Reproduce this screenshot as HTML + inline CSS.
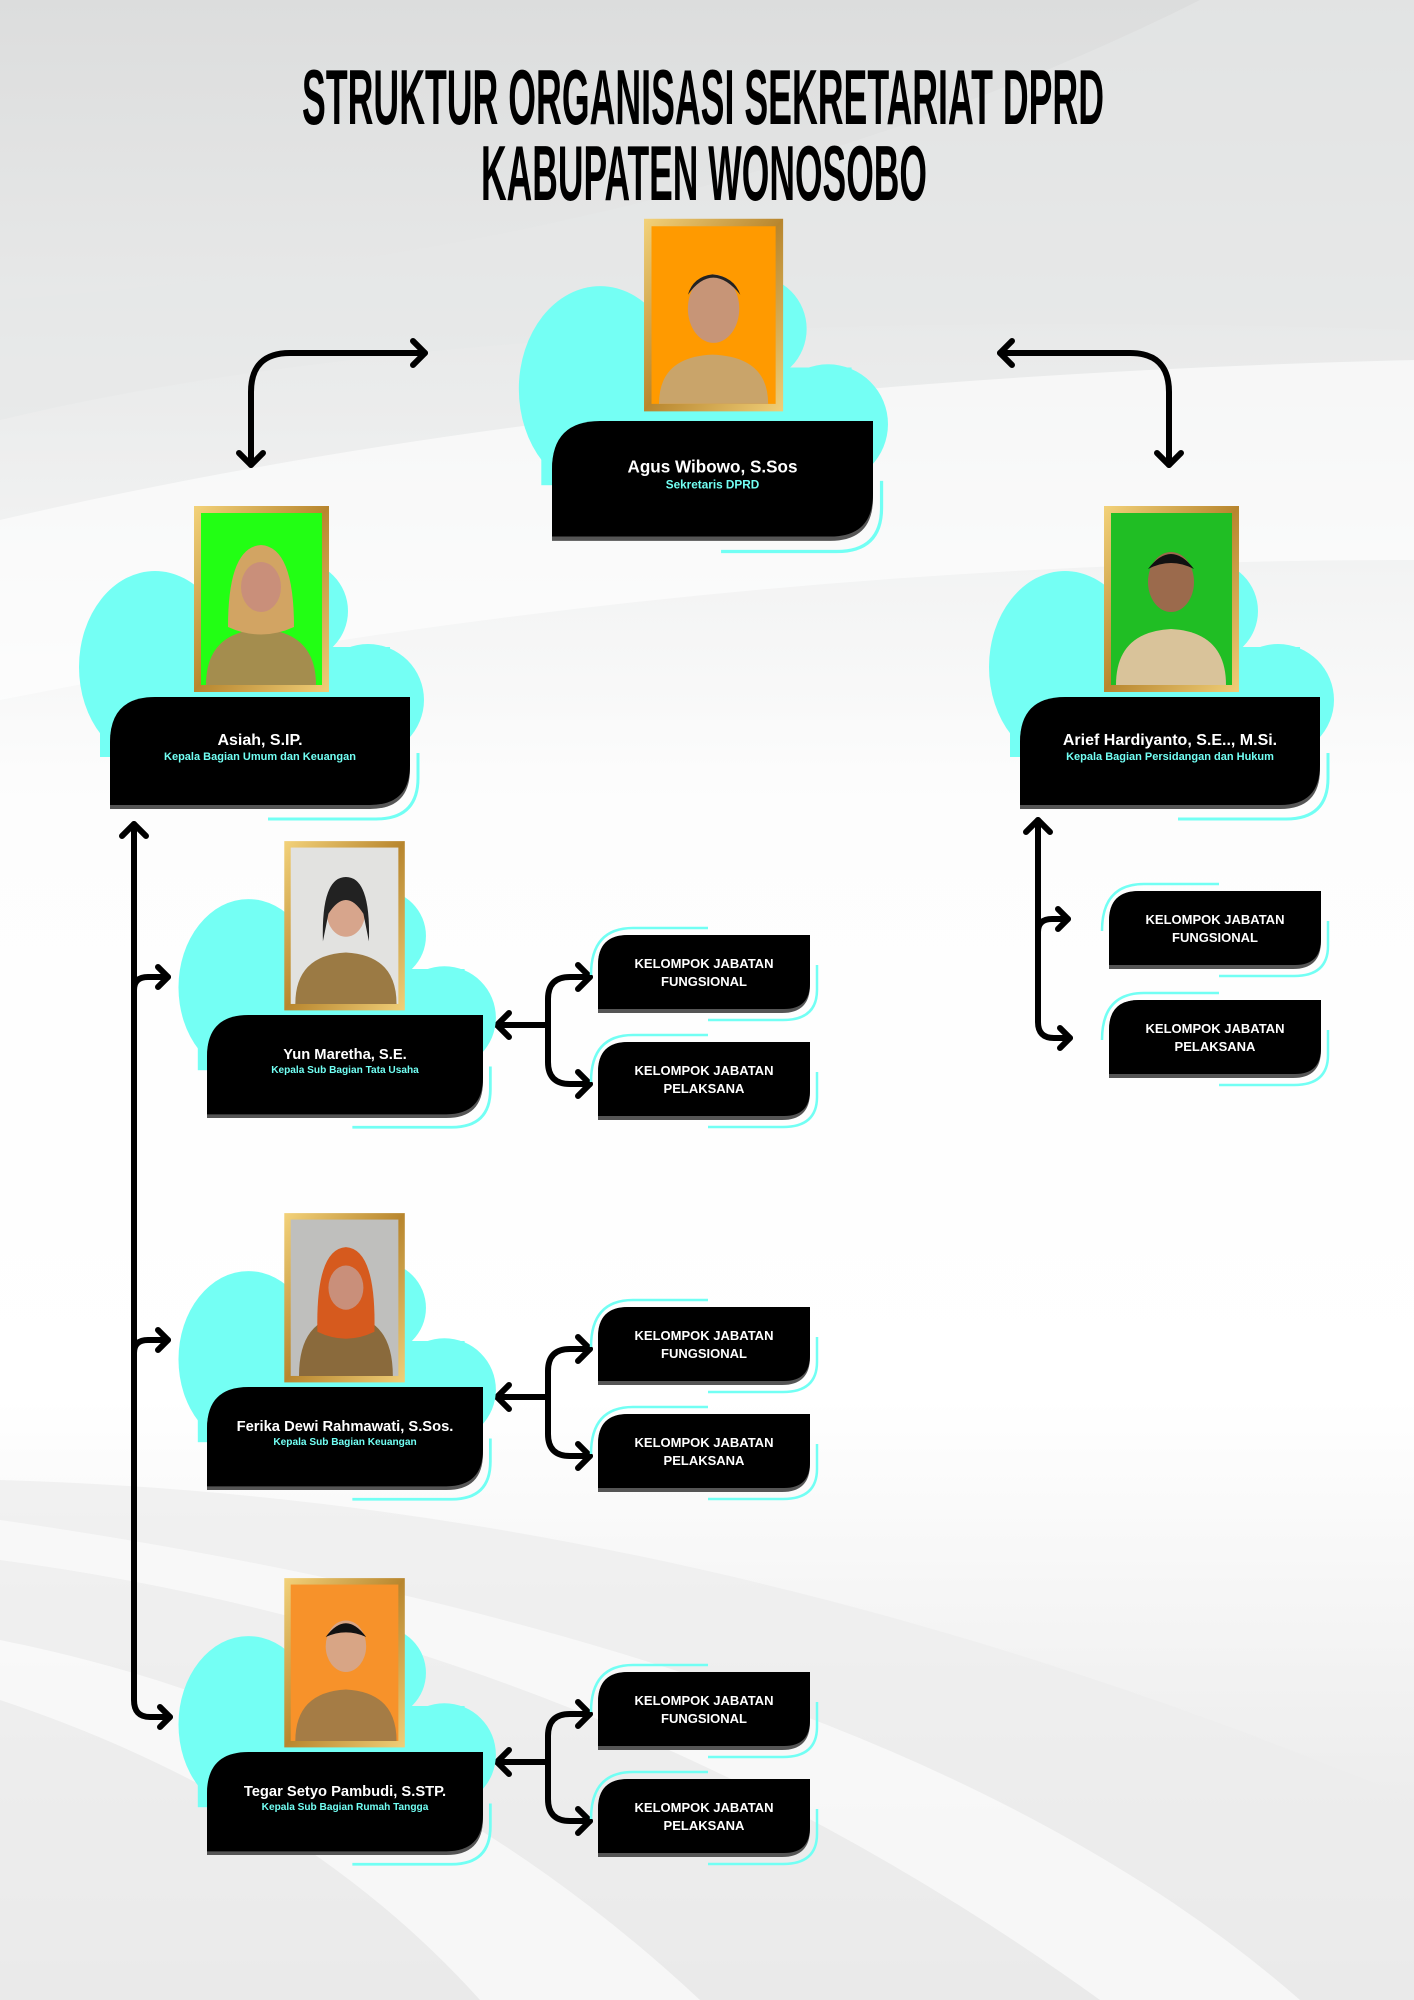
<!DOCTYPE html>
<html><head><meta charset="utf-8"><style>
html,body{margin:0;padding:0;width:1414px;height:2000px;overflow:hidden;background:#fff}
svg{display:block}
text{font-family:"Liberation Sans",sans-serif}
</style></head><body>
<svg width="1414" height="2000" viewBox="0 0 1414 2000" xmlns="http://www.w3.org/2000/svg">
<defs>
<linearGradient id="bg" x1="0" y1="0" x2="0" y2="1">
<stop offset="0" stop-color="#dcdddd"/><stop offset="0.2" stop-color="#ebecec"/><stop offset="0.4" stop-color="#fdfdfd"/>
<stop offset="0.7" stop-color="#ffffff"/><stop offset="0.85" stop-color="#f1f1f1"/><stop offset="1" stop-color="#e4e4e4"/>
</linearGradient>
<linearGradient id="gold" x1="0" y1="0" x2="1" y2="1">
<stop offset="0" stop-color="#f3d27a"/><stop offset="0.5" stop-color="#b8862e"/><stop offset="1" stop-color="#f0cf78"/>
</linearGradient>
<g id="cloud">
<ellipse cx="45" cy="-30" rx="76" ry="96"/><circle cx="258" cy="3" r="56"/><circle cx="188" cy="-86" r="50"/>
<rect x="-10" y="-50" width="290" height="110"/>
</g>
<g id="box">
<path d="M300,50 L300,75 Q300,116 258,116 L150,116" transform="translate(8,6)" fill="none" stroke="#72fff4" stroke-width="3"/>
<path d="M0,45 Q0,4 45,4 L300,4 L300,72 Q300,112 260,112 L0,112 Z" fill="#555"/>
<path d="M0,45 Q0,0 45,0 L300,0 L300,68 Q300,108 260,108 L0,108 Z" fill="#000"/>
</g>
<g id="kbox">
<path d="M-7,40 Q-7,-7 35,-7 L110,-7" fill="none" stroke="#72fff4" stroke-width="2.5"/>
<path d="M219,30 L219,55 Q219,85 185,85 L110,85" fill="none" stroke="#72fff4" stroke-width="2.5"/>
<path d="M0,30 Q0,0 30,0 L212,0 L212,50 Q212,78 184,78 L0,78 Z" fill="#555"/>
<path d="M0,30 Q0,0 30,0 L212,0 L212,48 Q212,74 186,74 L0,74 Z" fill="#000"/>
</g>
</defs>
<rect width="1414" height="2000" fill="url(#bg)"/>
<path d="M0,420 Q500,300 1414,330 L1414,0 L1200,0 Q700,250 0,300 Z" fill="#e6e7e7" opacity="0.6"/>
<path d="M0,520 Q600,380 1414,360 L1414,560 Q700,560 0,700 Z" fill="#fff" opacity="0.6"/>
<path d="M0,1480 Q700,1500 1414,1800 L1414,2000 L0,2000 Z" fill="#ececec" opacity="0.7"/>
<path d="M0,1560 Q600,1640 1100,2000 L1300,2000 Q900,1650 0,1520 Z" fill="#fafafa" opacity="0.8"/>
<path d="M0,1700 Q300,1800 480,2000 L700,2000 Q400,1720 0,1640 Z" fill="#fff" opacity="0.6"/>

<text x="302" y="124" font-size="78" font-weight="bold" textLength="802" lengthAdjust="spacingAndGlyphs">STRUKTUR ORGANISASI SEKRETARIAT DPRD</text>
<text x="481" y="200" font-size="78" font-weight="bold" textLength="446" lengthAdjust="spacingAndGlyphs">KABUPATEN WONOSOBO</text>

<g fill="none" stroke="#000" stroke-width="6" stroke-linecap="round" stroke-linejoin="round">
<path d="M425,353 L290,353 Q251,353 251,392 L251,465"/>
<polyline points="413,341 425,353 413,365"/><polyline points="239,453 251,465 263,453"/>
<path d="M1000,353 L1130,353 Q1169,353 1169,392 L1169,465"/>
<polyline points="1012,341 1000,353 1012,365"/><polyline points="1157,453 1169,465 1181,453"/>
<path d="M134,824 L134,1700 Q134,1717 150,1717 L170,1717"/>
<polyline points="122,836 134,824 146,836"/><polyline points="160,1707 170,1717 160,1727"/>
<path d="M134,990 Q134,977 148,977 L168,977"/><polyline points="158,967 168,977 158,987"/>
<path d="M134,1353 Q134,1340 148,1340 L168,1340"/><polyline points="158,1330 168,1340 158,1350"/>
<path d="M1038,820 L1038,1022 Q1038,1038 1054,1038 L1070,1038"/>
<polyline points="1026,832 1038,820 1050,832"/><polyline points="1060,1028 1070,1038 1060,1048"/>
<path d="M1038,932 Q1038,919 1052,919 L1068,919"/><polyline points="1058,909 1068,919 1058,929"/>
<g id="br">
<path d="M590,977 L570,977 Q548,977 548,999 L548,1062 Q548,1084 570,1084 L590,1084"/>
<path d="M497,1025 L548,1025"/>
<polyline points="509,1013 497,1025 509,1037"/><polyline points="578,965 590,977 578,989"/><polyline points="578,1072 590,1084 578,1096"/>
</g>
<use href="#br" y="372"/><use href="#br" y="737"/>
</g>

<g transform="translate(552,421) scale(1.07)">
<use href="#cloud" fill="#74fff4"/>
<use href="#box"/>
<rect x="86" y="-189" width="130" height="180" fill="url(#gold)"/><rect x="93" y="-182" width="116" height="166" fill="#ff9a00"/>
<path d="M100,-16 Q100,-60 150,-62 Q202,-60 202,-16 Z" fill="#c9a46a"/><ellipse cx="151" cy="-105" rx="24" ry="32" fill="#c79577"/><path d="M127,-118 Q150,-150 176,-118 Q170,-135 150,-137 Q132,-135 127,-118Z" fill="#222"/>
<text x="150" y="48" font-size="16" font-weight="bold" fill="#fff" text-anchor="middle">Agus Wibowo, S.Sos</text>
<text x="150" y="63" font-size="11" font-weight="bold" fill="#72fff4" text-anchor="middle">Sekretaris DPRD</text>
</g>

<g transform="translate(110,697)">
<use href="#cloud" fill="#74fff4"/>
<use href="#box"/>
<rect x="84" y="-191" width="135" height="186" fill="url(#gold)"/><rect x="91" y="-184" width="121" height="172" fill="#22ff14"/>
<path d="M96,-12 Q96,-65 151,-68 Q206,-65 206,-12 Z" fill="#a48d4e"/><path d="M118,-70 Q118,-150 151,-152 Q184,-150 184,-70 Q151,-55 118,-70Z" fill="#d2a463"/><ellipse cx="151" cy="-110" rx="20" ry="25" fill="#c98f7a"/>
<text x="150" y="48" font-size="16" font-weight="bold" fill="#fff" text-anchor="middle">Asiah, S.IP.</text>
<text x="150" y="63" font-size="11" font-weight="bold" fill="#72fff4" text-anchor="middle">Kepala Bagian Umum dan Keuangan</text>
</g>

<g transform="translate(1020,697)">
<use href="#cloud" fill="#74fff4"/>
<use href="#box"/>
<rect x="84" y="-191" width="135" height="186" fill="url(#gold)"/><rect x="91" y="-184" width="121" height="172" fill="#20be24"/>
<path d="M96,-12 Q96,-65 151,-68 Q206,-65 206,-12 Z" fill="#d9c39a"/><ellipse cx="151" cy="-115" rx="23" ry="30" fill="#9b6a4c"/><path d="M128,-128 Q151,-158 174,-128 Q151,-140 128,-128Z" fill="#111"/>
<text x="150" y="48" font-size="16" font-weight="bold" fill="#fff" text-anchor="middle">Arief Hardiyanto, S.E.., M.Si.</text>
<text x="150" y="63" font-size="11" font-weight="bold" fill="#72fff4" text-anchor="middle">Kepala Bagian Persidangan dan Hukum</text>
</g>

<g transform="translate(207,1015) scale(0.92)">
<use href="#cloud" fill="#74fff4"/>
<use href="#box"/>
<rect x="84" y="-189" width="131" height="184" fill="url(#gold)"/><rect x="91" y="-182" width="117" height="170" fill="#e2e2e0"/>
<path d="M96,-12 Q96,-65 151,-68 Q206,-65 206,-12 Z" fill="#9b7a44"/><ellipse cx="151" cy="-112" rx="21" ry="27" fill="#d7a58c"/><path d="M126,-80 Q124,-150 151,-150 Q178,-150 176,-80 L170,-110 Q151,-140 132,-110Z" fill="#222"/>
<text x="150" y="48" font-size="16" font-weight="bold" fill="#fff" text-anchor="middle">Yun Maretha, S.E.</text>
<text x="150" y="63" font-size="11" font-weight="bold" fill="#72fff4" text-anchor="middle">Kepala Sub Bagian Tata Usaha</text>
</g>

<g transform="translate(207,1387) scale(0.92)">
<use href="#cloud" fill="#74fff4"/>
<use href="#box"/>
<rect x="84" y="-189" width="131" height="184" fill="url(#gold)"/><rect x="91" y="-182" width="117" height="170" fill="#bfbfbd"/>
<path d="M100,-12 Q100,-75 151,-78 Q202,-75 202,-12 Z" fill="#8a6a3c"/><path d="M120,-60 Q118,-150 151,-152 Q184,-150 182,-60 Q151,-45 120,-60Z" fill="#d65a1e"/><ellipse cx="151" cy="-108" rx="19" ry="24" fill="#c98f7a"/>
<text x="150" y="48" font-size="16" font-weight="bold" fill="#fff" text-anchor="middle">Ferika Dewi Rahmawati, S.Sos.</text>
<text x="150" y="63" font-size="11" font-weight="bold" fill="#72fff4" text-anchor="middle">Kepala Sub Bagian Keuangan</text>
</g>

<g transform="translate(207,1752) scale(0.92)">
<use href="#cloud" fill="#74fff4"/>
<use href="#box"/>
<rect x="84" y="-189" width="131" height="184" fill="url(#gold)"/><rect x="91" y="-182" width="117" height="170" fill="#f7922a"/>
<path d="M96,-12 Q96,-65 151,-68 Q206,-65 206,-12 Z" fill="#a57c45"/><ellipse cx="151" cy="-115" rx="22" ry="28" fill="#d8a585"/><path d="M129,-125 Q151,-155 173,-125 Q151,-135 129,-125Z" fill="#111"/>
<text x="150" y="48" font-size="16" font-weight="bold" fill="#fff" text-anchor="middle">Tegar Setyo Pambudi, S.STP.</text>
<text x="150" y="63" font-size="11" font-weight="bold" fill="#72fff4" text-anchor="middle">Kepala Sub Bagian Rumah Tangga</text>
</g>

<g font-size="13" font-weight="bold" fill="#fff" text-anchor="middle">
<g transform="translate(598,935)"><use href="#kbox"/><text x="106" y="33" fill="#fff">KELOMPOK JABATAN</text><text x="106" y="51" fill="#fff">FUNGSIONAL</text></g>
<g transform="translate(598,1042)"><use href="#kbox"/><text x="106" y="33" fill="#fff">KELOMPOK JABATAN</text><text x="106" y="51" fill="#fff">PELAKSANA</text></g>
<g transform="translate(598,1307)"><use href="#kbox"/><text x="106" y="33" fill="#fff">KELOMPOK JABATAN</text><text x="106" y="51" fill="#fff">FUNGSIONAL</text></g>
<g transform="translate(598,1414)"><use href="#kbox"/><text x="106" y="33" fill="#fff">KELOMPOK JABATAN</text><text x="106" y="51" fill="#fff">PELAKSANA</text></g>
<g transform="translate(598,1672)"><use href="#kbox"/><text x="106" y="33" fill="#fff">KELOMPOK JABATAN</text><text x="106" y="51" fill="#fff">FUNGSIONAL</text></g>
<g transform="translate(598,1779)"><use href="#kbox"/><text x="106" y="33" fill="#fff">KELOMPOK JABATAN</text><text x="106" y="51" fill="#fff">PELAKSANA</text></g>
<g transform="translate(1109,891)"><use href="#kbox"/><text x="106" y="33" fill="#fff">KELOMPOK JABATAN</text><text x="106" y="51" fill="#fff">FUNGSIONAL</text></g>
<g transform="translate(1109,1000)"><use href="#kbox"/><text x="106" y="33" fill="#fff">KELOMPOK JABATAN</text><text x="106" y="51" fill="#fff">PELAKSANA</text></g>
</g>
</svg>
</body></html>
